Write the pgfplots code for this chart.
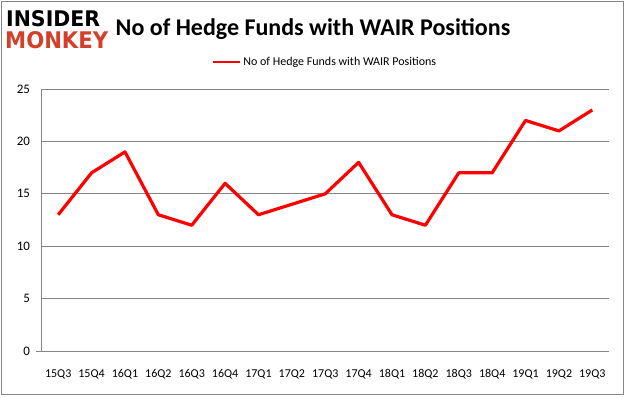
\documentclass[border=0pt]{standalone}
\usepackage{pgfplots}
\pgfplotsset{compat=1.18}
\usepackage{fontspec}
\setmainfont{Carlito}
\newfontfamily\logofont{DejaVu Sans}
\definecolor{gridgray}{HTML}{868686}
\definecolor{logored}{HTML}{D43F2A}
\begin{document}
\begin{tikzpicture}[x=1pt,y=1pt]
\useasboundingbox (0,0) rectangle (626,397);
\draw[gridgray, line width=0.8pt] (1.5,3) rectangle (623.5,396);
\node[anchor=south west, inner sep=0pt, font=\logofont\bfseries] at (6,370) {\resizebox{94pt}{16pt}{INSIDER}};
\node[anchor=south west, inner sep=0pt, font=\logofont\bfseries, text=logored] at (5,348) {\resizebox{103pt}{17pt}{MONKEY}};
\node[anchor=center, inner sep=0pt, font=\fontsize{24}{27}\selectfont\bfseries] at (313,368) {No of Hedge Funds with WAIR Positions};
\begin{axis}[
  at={(41.5pt,46pt)}, anchor=south west,
  scale only axis, width=567.5pt, height=262pt,
  xmin=-0.5, xmax=16.5, ymin=0, ymax=25,
  ytick={0,5,10,15,20,25},
  xtick={0,...,16},
  xticklabels={15Q3,15Q4,16Q1,16Q2,16Q3,16Q4,17Q1,17Q2,17Q3,17Q4,18Q1,18Q2,18Q3,18Q4,19Q1,19Q2,19Q3},
  minor xtick={-0.5,0.5,...,16.5},
  xtick style={draw=none},
  minor tick length=5pt,
  every minor tick/.style={gridgray, line width=0.8pt},
  minor x tick style={yshift=-2.5pt},
  ytick style={draw=none},
  ymajorgrids, grid style={gridgray, line width=0.8pt},
  axis x line*=bottom, axis y line*=left,
  axis line style={gridgray, line width=0.8pt, -},
  x axis line style={shorten <=-6pt},
  tick label style={text=black},
  xticklabel style={font=\fontsize{12}{14}\selectfont, yshift=-15pt},
  yticklabel style={font=\fontsize{13}{15}\selectfont, xshift=-8pt},
  /pgf/number format/assume math mode=true,
  legend style={at={(0.5,1)}, anchor=center, yshift=27pt, draw=none, fill=none, font=\fontsize{12}{14}\selectfont, legend columns=1},
  legend image code/.code={\draw[red, line width=2pt] (0pt,0pt) -- (27pt,0pt);},
]
\addplot[red, line width=3.2pt, line join=round] coordinates {
(0,13) (1,17) (2,19) (3,13) (4,12) (5,16) (6,13) (7,14) (8,15) (9,18) (10,13) (11,12) (12,17) (13,17) (14,22) (15,21) (16,23)
};
\addlegendentry{No of Hedge Funds with WAIR Positions}
\end{axis}
\end{tikzpicture}
\end{document}
